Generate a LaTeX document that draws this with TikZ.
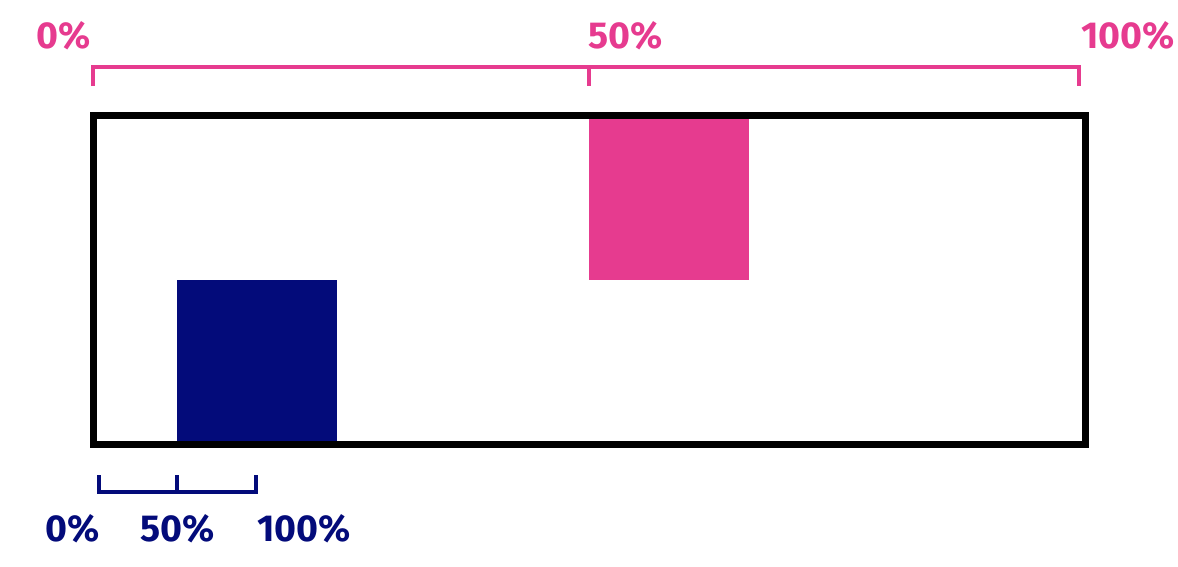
\documentclass[tikz,border=0pt]{standalone}
\usepackage{fontspec}
\setmainfont{Fira Sans}
\definecolor{pinkc}{HTML}{E63B8F}
\definecolor{navyc}{HTML}{030B7A}
\begin{document}
\begin{tikzpicture}[x=1pt,y=-1pt,
  lbl/.style={inner sep=0pt,font=\fontsize{37.5}{40}\selectfont\bfseries},
  frame/.style={draw=black,line width=7pt,outer sep=0pt,inner sep=0pt},
  pinkbar/.style={draw=pinkc,line width=4pt},
  navybar/.style={draw=navyc,line width=4pt}]
\useasboundingbox (0,0) rectangle (1178,566);
% outer frame
\node[frame,minimum width=992.5pt,minimum height=328.5pt,anchor=north west] (box) at (93,115.5) {};
% squares
\fill[pinkc] (589,118.5) rectangle (749,280);
\fill[navyc] (177,280) rectangle (337,440.5);
% pink bracket
\coordinate (p0) at (93,67);
\coordinate (p50) at (589,67);
\coordinate (p100) at (1079,67);
\draw[pinkbar] (93,86) -- (p0) -- (p100) -- (1079,86);
\draw[pinkbar] (p50) -- (589,86);
\node[lbl,text=pinkc,anchor=base east] (t0) at (91,48) {0\%};
\node[lbl,text=pinkc,anchor=base west] (t50) at (588,48) {50\%};
\node[lbl,text=pinkc,anchor=base west] (t100) at (1081,48) {100\%};
% navy bracket
\coordinate (n0) at (99,492);
\coordinate (n50) at (177,492);
\coordinate (n100) at (255.5,492);
\draw[navybar] (99,475) -- (n0) -- (n100) -- (255.5,475);
\draw[navybar] (n50) -- (177,475);
\node[lbl,text=navyc,anchor=base west] (b0) at (45,541.7) {0\%};
\node[lbl,text=navyc,anchor=base west] (b50) at (140,541.7) {50\%};
\node[lbl,text=navyc,anchor=base west] (b100) at (257,541.7) {100\%};
\end{tikzpicture}
\end{document}
